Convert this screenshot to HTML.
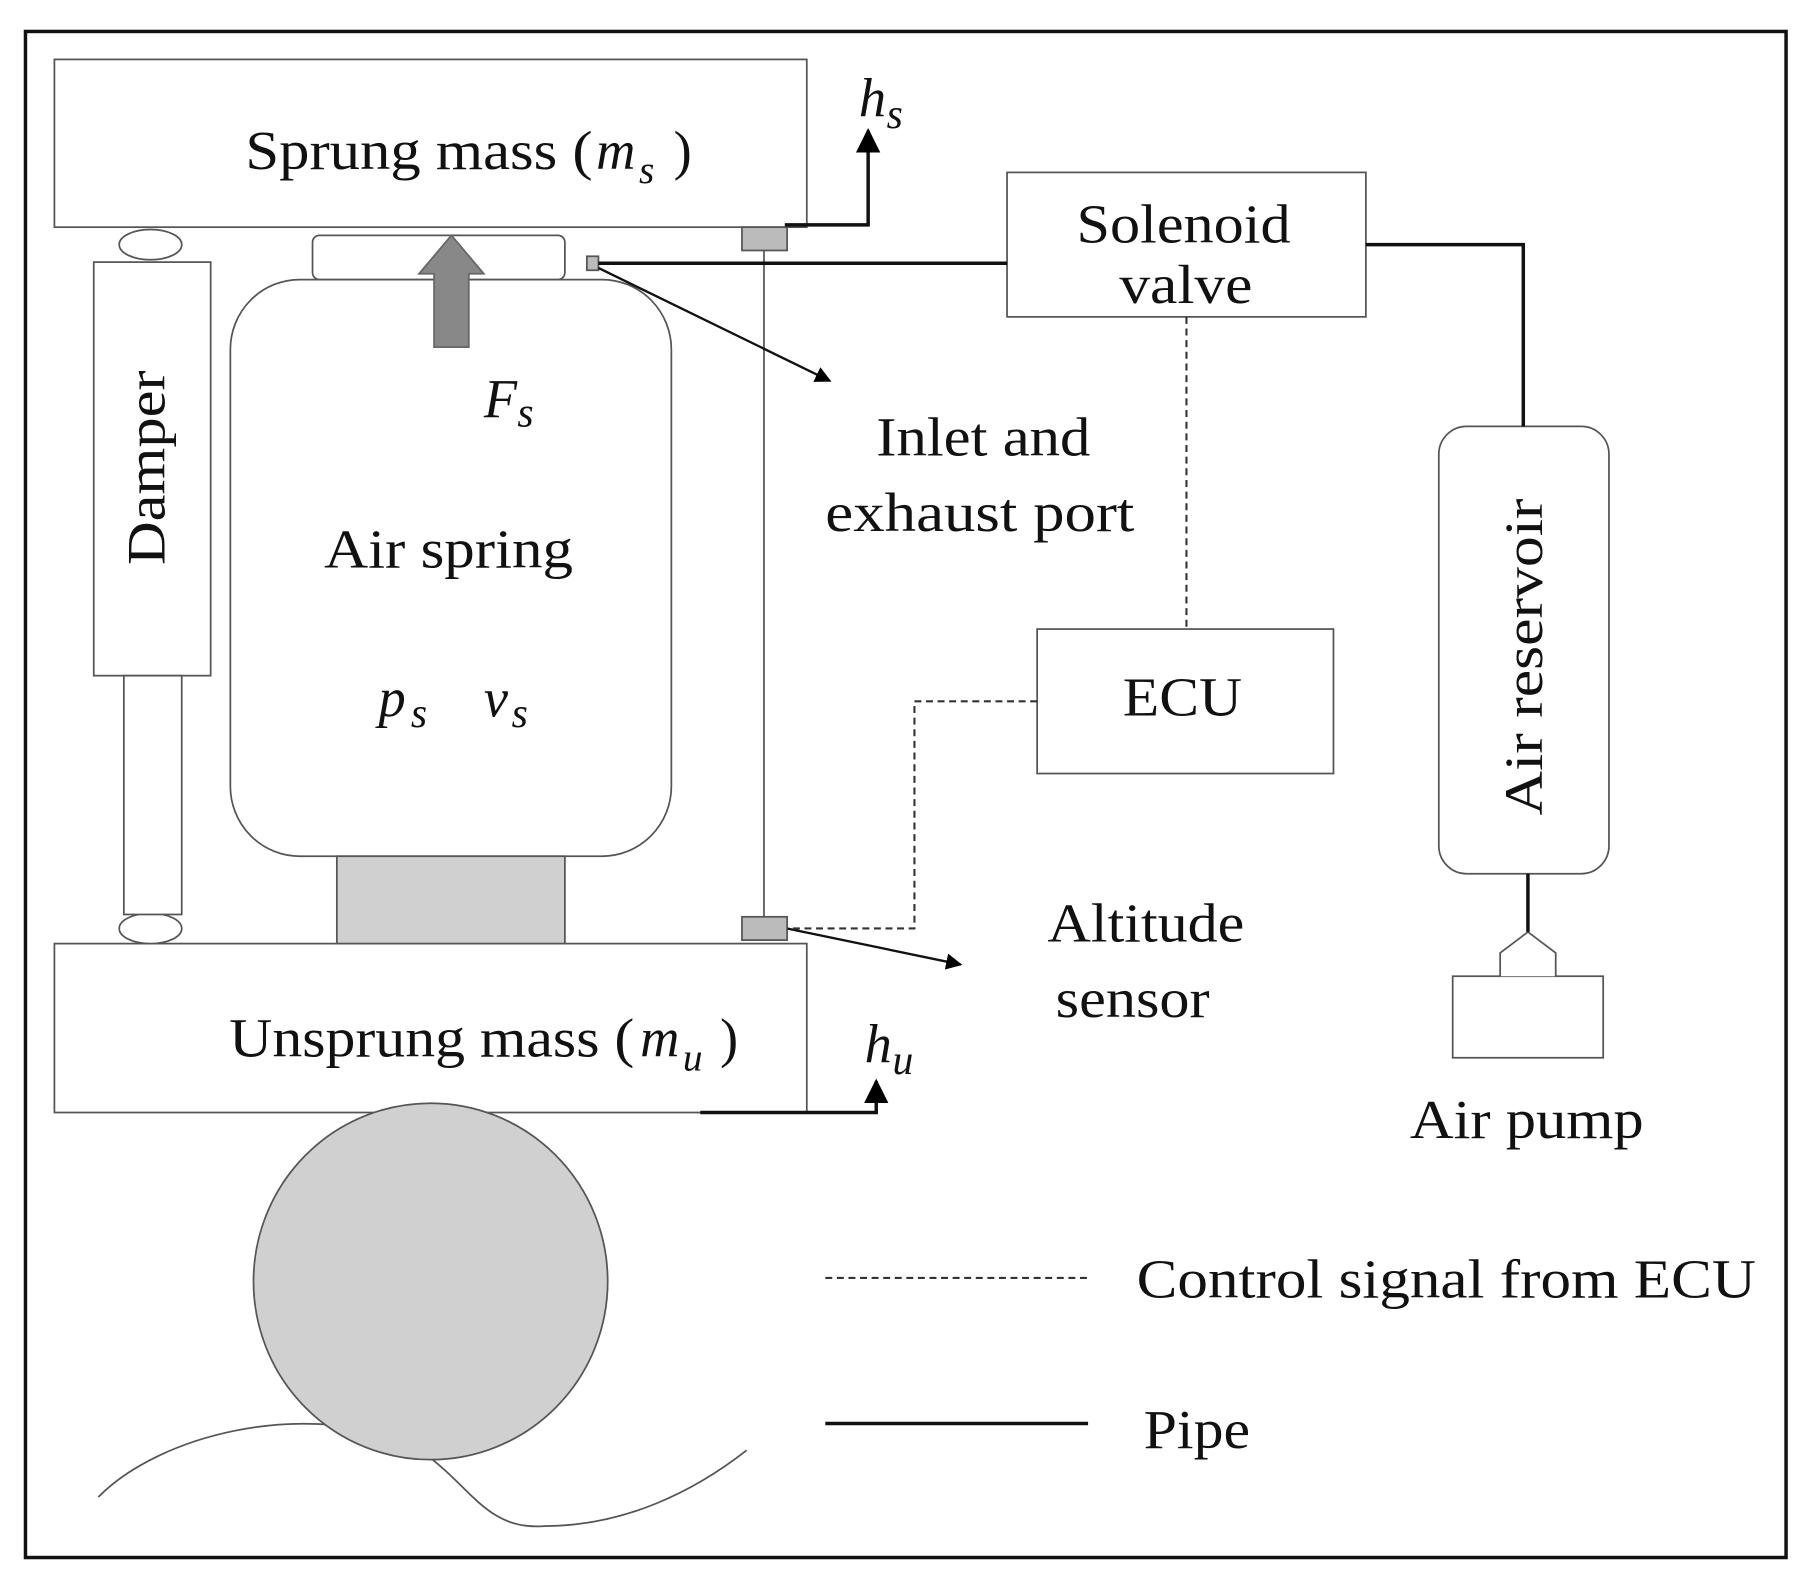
<!DOCTYPE html>
<html><head><style>html,body{margin:0;padding:0;background:#fff}svg{display:block}
text{font-family:"Liberation Serif",serif;fill:#111}</style></head><body>
<svg width="1815" height="1575" viewBox="0 0 1568 1352" preserveAspectRatio="none" xmlns="http://www.w3.org/2000/svg">
<defs><marker id="a" viewBox="0 0 10 10" refX="9" refY="5" markerWidth="7" markerHeight="7" orient="auto"><path d="M0,0L10,5L0,10z" fill="#000"/></marker></defs>
<rect x="22" y="27" width="1521" height="1310" fill="none" stroke="#111" stroke-width="3"/>
<g fill="#fff" stroke="#555" stroke-width="1.5">
<rect x="47" y="51" width="650" height="144"/>
<rect x="47" y="810" width="650" height="145"/>
<ellipse cx="130" cy="210" rx="27" ry="13"/><ellipse cx="130" cy="797" rx="27" ry="13"/>
<rect x="81" y="225" width="101" height="355"/>
<rect x="107" y="580" width="50" height="205"/>
<rect x="270" y="202" width="218" height="38" rx="6"/>
<rect x="199" y="240" width="381" height="495" rx="60"/>
<rect x="291" y="735" width="197" height="75" fill="#d0d0d0"/>
<rect x="870" y="148" width="310" height="124"/>
<rect x="896" y="540" width="256" height="124"/>
<rect x="1243" y="366" width="147" height="384" rx="24"/>
<rect x="1255" y="838" width="130" height="70"/>
<path d="M85,1285 C140,1230 260,1205 340,1235 C400,1255 410,1315 470,1310 C540,1310 600,1280 645,1245" fill="none"/>
<circle cx="372" cy="1100" r="153" fill="#d0d0d0"/>
<line x1="660" y1="215" x2="660" y2="787"/>
<rect x="641" y="195" width="39" height="20" fill="#bbb"/>
<rect x="641" y="787" width="39" height="20" fill="#bbb"/>
<rect x="507" y="220" width="10" height="12" fill="#bbb"/>
<path d="M1320,800 L1296,818 L1296,830 L1344,830 L1344,818 Z" stroke="none"/>
<path d="M1296,838 L1296,818 L1320,800 L1344,818 L1344,838"/>
</g>
<path d="M375,298 L375,235 L362,235 L390,202 L418,235 L405,235 L405,298 Z" fill="#888" stroke="#666" stroke-width="1.5"/>
<g stroke="#111" stroke-width="3" fill="none">
<path d="M678,193 L750,193 L750,112" marker-end="url(#a)"/>
<path d="M605,955 L757,955 L757,928" marker-end="url(#a)"/>
<path d="M517,226 L870,226"/>
<path d="M1180,210 L1316,210 L1316,366"/>
<path d="M1320,750 L1320,800"/>
<line x1="713" y1="1222" x2="940" y2="1222"/>
</g>
<g stroke="#111" stroke-width="2" fill="none">
<line x1="517" y1="230" x2="717" y2="327" marker-end="url(#a)"/>
<line x1="680" y1="797" x2="830" y2="828" marker-end="url(#a)"/>
</g>
<g stroke="#333" stroke-width="1.8" fill="none" stroke-dasharray="6,4">
<line x1="1025" y1="272" x2="1025" y2="540"/>
<path d="M896,602 L790,602 L790,797 L680,797"/>
<line x1="713" y1="1097" x2="940" y2="1097"/>
</g>
<g font-size="47" lengthAdjust="spacingAndGlyphs">
<text x="212" y="145" textLength="300" lengthAdjust="spacingAndGlyphs">Sprung  mass (</text>
<text x="515" y="145" font-style="italic">m</text><text x="552" y="157" font-size="34" font-style="italic">s</text><text x="582" y="145">)</text>
<text x="198" y="907" textLength="350" lengthAdjust="spacingAndGlyphs">Unsprung mass  (</text>
<text x="553" y="907" font-style="italic">m</text><text x="590" y="919" font-size="34" font-style="italic">u</text><text x="622" y="907">)</text>
<text x="930" y="208" textLength="185" lengthAdjust="spacingAndGlyphs">Solenoid</text>
<text x="967" y="260" textLength="115" lengthAdjust="spacingAndGlyphs">valve</text>
<text x="970" y="614" textLength="103" lengthAdjust="spacingAndGlyphs">ECU</text>
<text x="757" y="391" textLength="185" lengthAdjust="spacingAndGlyphs">Inlet and</text>
<text x="713" y="456" textLength="267" lengthAdjust="spacingAndGlyphs">exhaust  port</text>
<text x="905" y="808" textLength="170" lengthAdjust="spacingAndGlyphs">Altitude</text>
<text x="912" y="873" textLength="133" lengthAdjust="spacingAndGlyphs">sensor</text>
<text x="1218" y="977" textLength="202" lengthAdjust="spacingAndGlyphs">Air pump</text>
<text x="280" y="487" textLength="215" lengthAdjust="spacingAndGlyphs">Air spring</text>
<text x="418" y="358" font-style="italic">F</text><text x="447" y="366" font-size="36" font-style="italic">s</text>
<text x="327" y="615" font-style="italic">p</text><text x="355" y="624" font-size="36" font-style="italic">s</text>
<text x="418" y="615" font-style="italic">v</text><text x="442" y="624" font-size="36" font-style="italic">s</text>
<text x="742" y="100" font-style="italic">h</text><text x="766" y="110" font-size="36" font-style="italic">s</text>
<text x="747" y="912" font-style="italic">h</text><text x="771" y="922" font-size="36" font-style="italic">u</text>
<text transform="translate(142,485) rotate(-90)" textLength="167" lengthAdjust="spacingAndGlyphs">Damper</text>
<text transform="translate(1332,700) rotate(-90)" textLength="272" lengthAdjust="spacingAndGlyphs">Air reservoir</text>
<text x="982" y="1114" textLength="535" lengthAdjust="spacingAndGlyphs">Control signal from ECU</text>
<text x="988" y="1243" textLength="92" lengthAdjust="spacingAndGlyphs">Pipe</text>
</g>
</svg>
</body></html>
